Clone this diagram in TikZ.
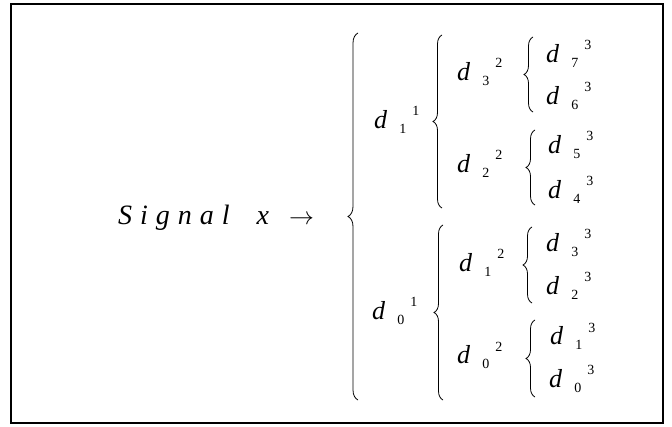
\documentclass[tikz,border=0pt]{standalone}
\usepackage{fontspec}
\setmainfont{Liberation Serif}
\usepackage{tikz}
\usetikzlibrary{decorations.pathreplacing}

\newcommand{\lsp}{\hspace{8pt}}
\newcommand{\dterm}[2]{\fontsize{26}{26}\selectfont\textit{d}\hspace{12pt}\raisebox{-5pt}{\fontsize{14}{14}\selectfont #1}\hspace{6pt}\raisebox{13pt}{\fontsize{14}{14}\selectfont #2}}

\begin{document}
\begin{tikzpicture}[
    x=1pt, y=-1pt,
    term/.style={anchor=base west, inner sep=0pt},
    frame/.style={draw=black, line width=2.2pt},
    bigbrace/.style={decorate, decoration={brace, amplitude=10pt}, line width=0.8pt},
    subbrace/.style={decorate, decoration={brace, amplitude=9pt}, line width=0.8pt}
]
    \useasboundingbox (0,0) rectangle (672,427);
    \draw [frame] (11,4) rectangle (663,423);

    % input
    \node [term] (sig) at (118,225) {\fontsize{28}{28}\selectfont\textit{S\lsp i\lsp g\lsp n\lsp a\lsp l}\hspace{27pt}\textit{x}\hspace{20pt}{\fontsize{23}{23}\selectfont$\rightarrow$}};

    % level 1
    \node [term] (d11) at (374,129) {\dterm{1}{1}};
    \node [term] (d01) at (372,320) {\dterm{0}{1}};

    % level 2
    \node [term] (d32) at (457,81) {\dterm{3}{2}};
    \node [term] (d22) at (457,173) {\dterm{2}{2}};
    \node [term] (d12) at (459,272) {\dterm{1}{2}};
    \node [term] (d02) at (457,364) {\dterm{0}{2}};

    % level 3
    \node [term] (d73) at (546,63) {\dterm{7}{3}};
    \node [term] (d63) at (546,105) {\dterm{6}{3}};
    \node [term] (d53) at (548,154) {\dterm{5}{3}};
    \node [term] (d43) at (548,199) {\dterm{4}{3}};
    \node [term] (d33) at (546,252) {\dterm{3}{3}};
    \node [term] (d23) at (546,295) {\dterm{2}{3}};
    \node [term] (d13) at (550,345) {\dterm{1}{3}};
    \node [term] (d03) at (549,388) {\dterm{0}{3}};

    % braces
    \draw [bigbrace] (358,400) -- (358,33);
    \draw [subbrace] (442,208) -- (442,35);
    \draw [subbrace] (443,400) -- (443,225);
    \draw [subbrace] (533,112) -- (533,37);
    \draw [subbrace] (535,205) -- (535,130);
    \draw [subbrace] (532,303) -- (532,227);
    \draw [subbrace] (535,397) -- (535,320);
\end{tikzpicture}
\end{document}
